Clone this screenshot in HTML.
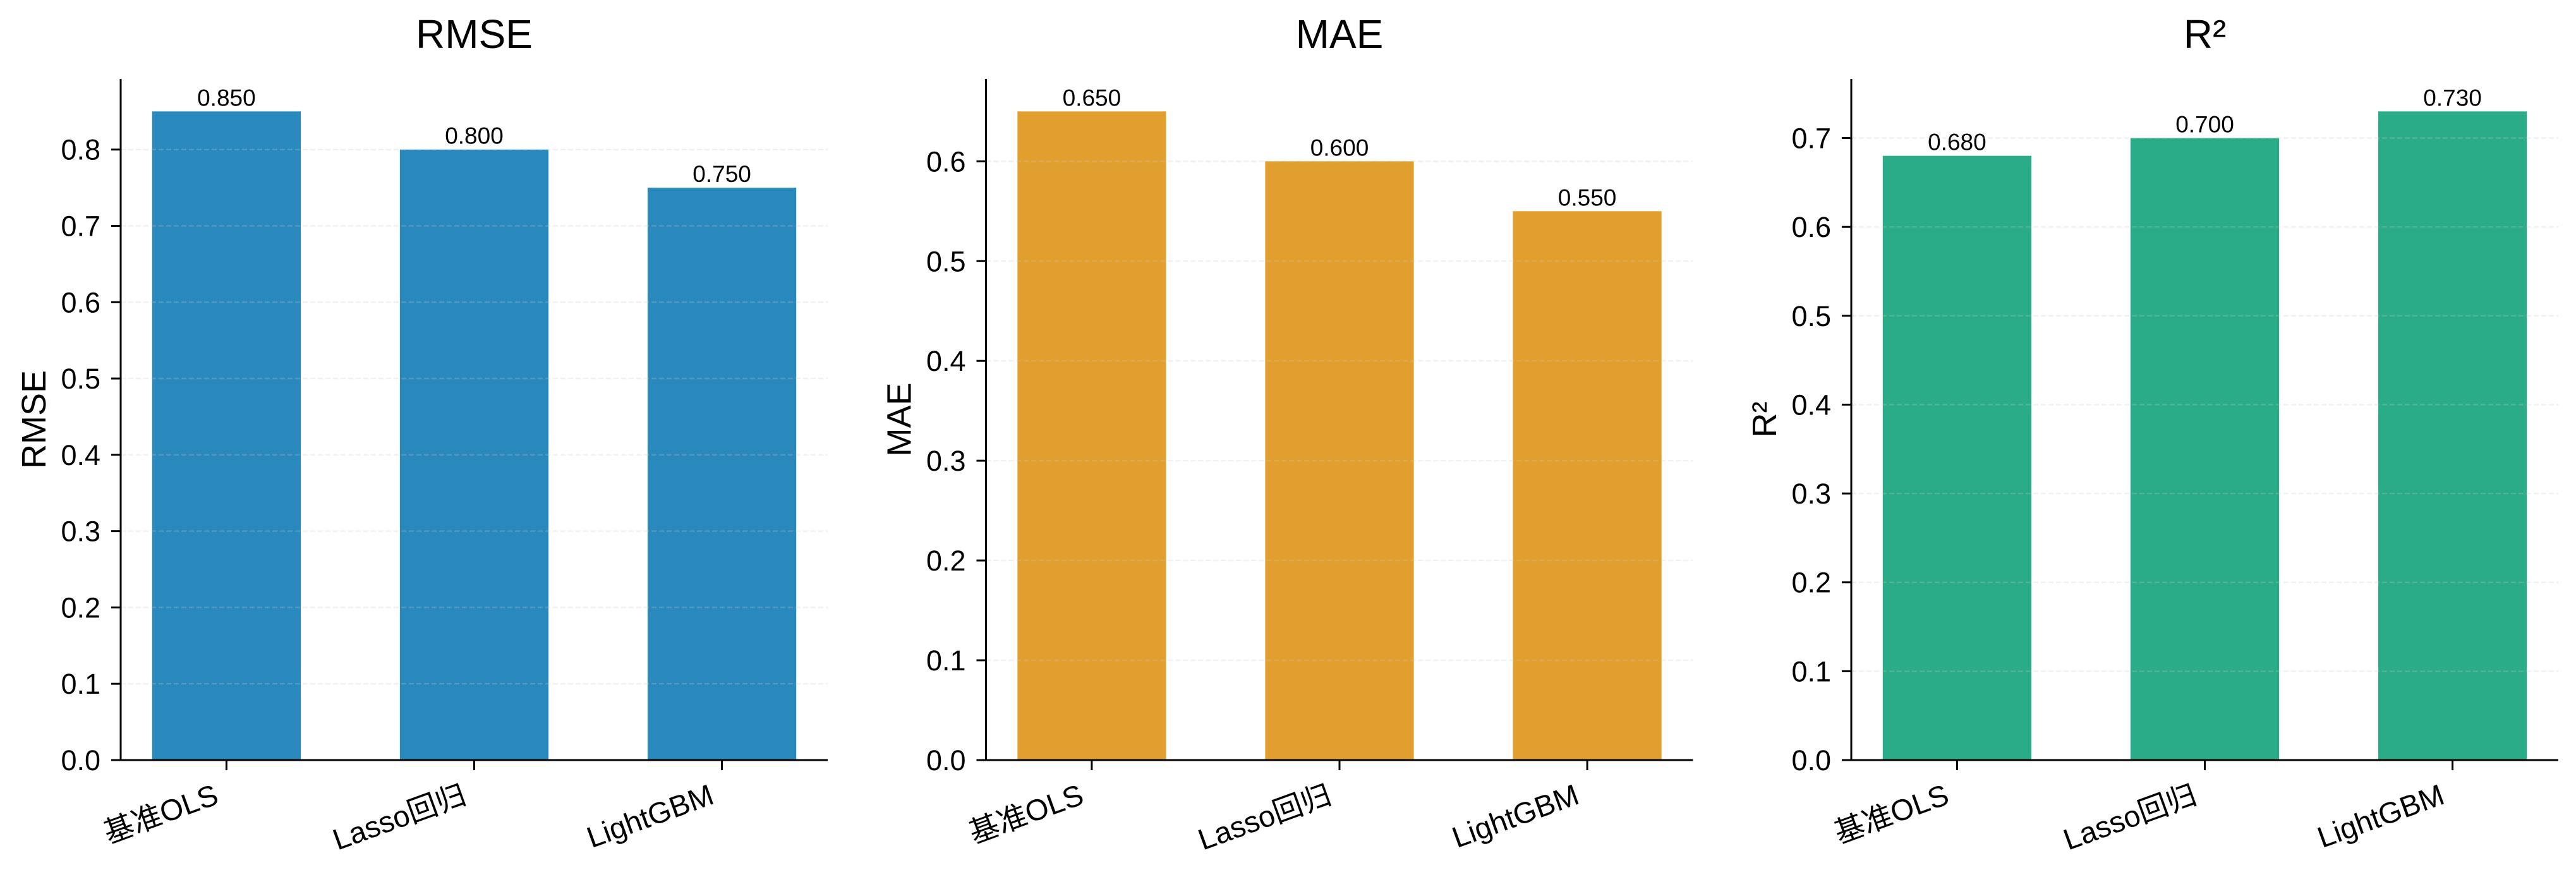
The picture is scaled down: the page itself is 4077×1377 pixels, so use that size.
<!DOCTYPE html>
<html><head><meta charset="utf-8"><style>
html,body{margin:0;padding:0;background:#fff;}
svg{display:block;font-family:"Liberation Sans","Noto Sans CJK SC",sans-serif;}
</style></head><body>
<svg id="chart" width="4077" height="1377" viewBox="0 0 4077 1377" xmlns="http://www.w3.org/2000/svg"></svg>
<script>
const categories = ["基准OLS", "Lasso回归", "LightGBM"];
const metricNames = ["RMSE", "MAE", "R²"];
const rmseValues = [0.85, 0.80, 0.75];
const maeValues = [0.65, 0.60, 0.55];
const r2Values = [0.68, 0.70, 0.73];
const rmseTicks = [0, 0.1, 0.2, 0.3, 0.4, 0.5, 0.6, 0.7, 0.8];
const maeTicks = [0, 0.1, 0.2, 0.3, 0.4, 0.5, 0.6];
const r2Ticks = [0, 0.1, 0.2, 0.3, 0.4, 0.5, 0.6, 0.7];

const panels = [
  {name: metricNames[0], values: rmseValues, ticks: rmseTicks, color: "#2988bc", slug: "rmse"},
  {name: metricNames[1], values: maeValues, ticks: maeTicks, color: "#e1a02e", slug: "mae"},
  {name: metricNames[2], values: r2Values, ticks: r2Ticks, color: "#2aac88", slug: "r2"}
];
const NS = "http://www.w3.org/2000/svg";
const svg = document.getElementById("chart");
function mk(tag, attrs, parent) {
  const e = document.createElementNS(NS, tag);
  for (const k in attrs) e.setAttribute(k, attrs[k]);
  parent.appendChild(e);
  return e;
}
const AX_L = 191, AX_R = 1310, Y0 = 1203, YTOP = 125, PANEL_DX = 1369.5;
panels.forEach((p, pi) => {
  const off = pi * PANEL_DX;
  const g = mk("g", {}, svg);
  
  
  const ymax = Math.max(...p.values) * 1.05;
  const yScale = v => Y0 - (v / ymax) * (Y0 - YTOP);
  const xmin = -0.427, xmax = 2.427;
  const xScale = i => off + AX_L + (i - xmin) / (xmax - xmin) * (AX_R - AX_L);
  const bw = (xScale(1) - xScale(0)) * 0.6;
  p.values.forEach((v, i) => {
    const r = mk("rect", {x: xScale(i) - bw / 2, y: yScale(v), width: bw, height: Y0 - yScale(v), fill: p.color}, g);
    
    
    const t = mk("text", {x: xScale(i), y: yScale(v) - 9, "text-anchor": "middle", "font-size": 37, fill: "#000"}, g);
    t.textContent = v.toFixed(3);
    
    
  });
  p.ticks.forEach(tv => {
    const y = yScale(tv);
    if (tv > 0) {
      const gl = mk("line", {x1: off + AX_L, x2: off + AX_R, y1: y, y2: y, stroke: "rgba(200,200,200,0.25)", "stroke-width": 2.5, "stroke-dasharray": "8,4"}, g);
      
      
    }
    const tk = mk("line", {x1: off + AX_L - 15, x2: off + AX_L, y1: y, y2: y, stroke: "#000", "stroke-width": 3}, g);
    
    
    const tl = mk("text", {x: off + AX_L - 32, y: y + 16, "text-anchor": "end", "font-size": 45, fill: "#000"}, g);
    tl.textContent = tv.toFixed(1);
    
    
  });
  categories.forEach((c, i) => {
    const x = xScale(i);
    const tk = mk("line", {x1: x, x2: x, y1: Y0, y2: Y0 + 16, stroke: "#000", "stroke-width": 3}, g);
    
    
    const bx = x - 10, by = Y0 + 68;
    const tl = mk("text", {x: bx, y: by, "text-anchor": "end", "font-size": 47, fill: "#000", transform: "rotate(-20 " + bx + " " + by + ")"}, g);
    tl.textContent = c;
    
    
  });
  const ya = mk("line", {x1: off + AX_L, x2: off + AX_L, y1: YTOP, y2: Y0 + 1.5, stroke: "#000", "stroke-width": 3}, g);
  
  
  const xa = mk("line", {x1: off + AX_L - 1.5, x2: off + AX_R, y1: Y0, y2: Y0, stroke: "#000", "stroke-width": 3}, g);
  
  
  const tt = mk("text", {x: off + (AX_L + AX_R) / 2, y: 76, "text-anchor": "middle", "font-size": 64, fill: "#000"}, g);
  tt.textContent = p.name;
  
  
  const lx = off + 72, ly = (Y0 + YTOP) / 2;
  const yl = mk("text", {x: lx, y: ly, "text-anchor": "middle", "font-size": 54, fill: "#000", transform: "rotate(-90 " + lx + " " + ly + ")"}, g);
  yl.textContent = p.name;
  
  
});
</script>
</body></html>
